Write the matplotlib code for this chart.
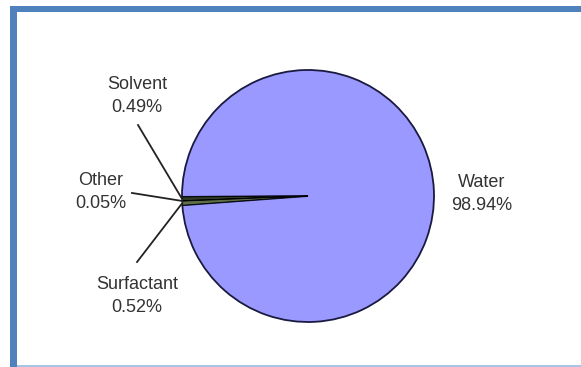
import numpy as np
import matplotlib
matplotlib.use('Agg')
import matplotlib.pyplot as plt
from matplotlib.patches import Rectangle

plt.rcParams['font.family'] = ['Liberation Sans', 'DejaVu Sans']

# composition by weight
components = ['Water', 'Solvent', 'Other', 'Surfactant']
shares = [98.94, 0.49, 0.05, 0.52]
colors = ['#9999ff', '#2e3a22', '#c8dcb0', '#5e6e48']

W, H = 581, 367
fig = plt.figure(figsize=(W / 100, H / 100), dpi=100)

# frame around the chart
fig.patches.append(Rectangle((10 / W, 0), 7 / W, (H - 6) / H, transform=fig.transFigure,
                             facecolor='#4f81bd', edgecolor='none'))
fig.patches.append(Rectangle((10 / W, (H - 12) / H), (W - 10) / W, 6 / H, transform=fig.transFigure,
                             facecolor='#4f81bd', edgecolor='none'))
fig.patches.append(Rectangle((17 / W, 0), (W - 17) / W, 2 / H, transform=fig.transFigure,
                             facecolor='#a9c4e4', edgecolor='none'))

cx, cy, r = 308, 196, 126
ax = fig.add_axes([(cx - r) / W, (H - cy - r) / H, 2 * r / W, 2 * r / H])

start = 180.4 - 360 * shares[0] / sum(shares)
wedges, _ = ax.pie(shares, colors=colors, startangle=start, counterclock=True,
                   radius=1, wedgeprops=dict(edgecolor='#1a1a40', linewidth=1.3))
for w in wedges[1:]:
    w.set_edgecolor('black')
    w.set_linewidth(0.6)
ax.set_xlim(-1, 1)
ax.set_ylim(-1, 1)
ax.axis('off')

# label text positions and leader line ends (pie radius units)
label_xy = {'Water': (1.381, 0.016), 'Solvent': (-1.357, 0.794),
            'Other': (-1.643, 0.032), 'Surfactant': (-1.357, -0.794)}
line_end = {'Solvent': (-1.349, 0.563), 'Other': (-1.397, 0.024),
            'Surfactant': (-1.357, -0.524)}

for w, name, val in zip(wedges, components, shares):
    tx, ty = label_xy[name]
    ax.text(tx, ty, f'{name}\n{val:.2f}%', ha='center', va='center', fontsize=13,
            color='#333333', linespacing=1.4, clip_on=False)
    if name in line_end:
        mid = np.deg2rad((w.theta1 + w.theta2) / 2)
        x0, y0 = np.cos(mid), np.sin(mid)
        x1, y1 = line_end[name]
        ax.plot([x0, x1], [y0, y1], color='#222222', lw=1.3, clip_on=False)

fig.savefig('out.png', dpi=100)
